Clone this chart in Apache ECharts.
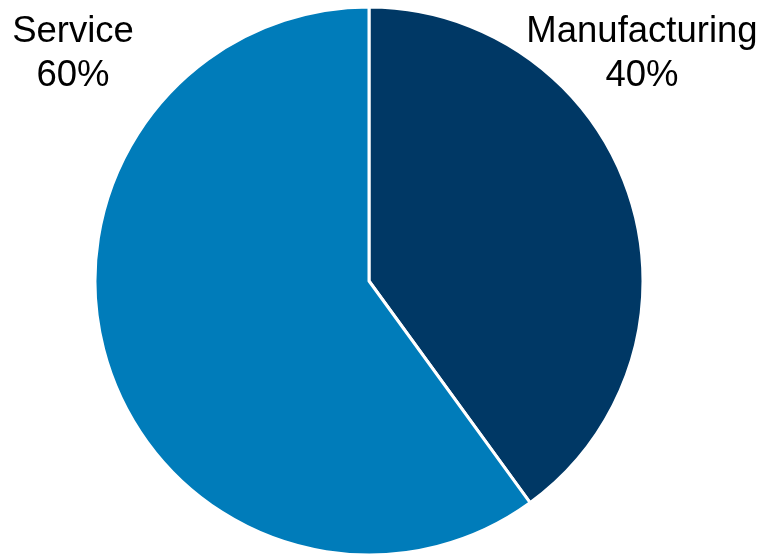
<!DOCTYPE html>
<html>
<head>
<meta charset="utf-8">
<script src="https://cdn.jsdelivr.net/npm/echarts@6/dist/echarts.min.js"></script>
<style>
html,body{margin:0;padding:0;background:#fff;}
#main{width:763px;height:554px;}
</style>
</head>
<body>
<div id="main"></div>
<script>
var categories = ['Manufacturing', 'Service'];
var values = [40, 60];
var colors = ['#003865', '#007CBA'];
var labelPos = [[642, 54], [73, 54]];

var chart = echarts.init(document.getElementById('main'), null, {renderer: 'canvas'});
chart.setOption({
  animation: false,
  backgroundColor: '#ffffff',
  series: [{
    type: 'pie',
    center: [369, 281],
    radius: [0, 274],
    startAngle: 90,
    clockwise: true,
    avoidLabelOverlap: false,
    data: categories.map(function (c, i) {
      return { name: c, value: values[i], itemStyle: { color: colors[i] } };
    }),
    itemStyle: { borderColor: '#ffffff', borderWidth: 3 },
    label: {
      show: true,
      position: 'outside',
      formatter: function (p) { return p.name + '\n' + p.value + '%'; },
      fontFamily: 'Arial',
      fontSize: 36.5,
      lineHeight: 44,
      color: '#000000',
      align: 'center',
      overflow: 'none',
      width: 400
    },
    labelLine: { show: false },
    labelLayout: function (params) {
      var p = labelPos[params.dataIndex];
      return { x: p[0], y: p[1], align: 'center', verticalAlign: 'middle' };
    }
  }]
});
</script>
</body>
</html>
